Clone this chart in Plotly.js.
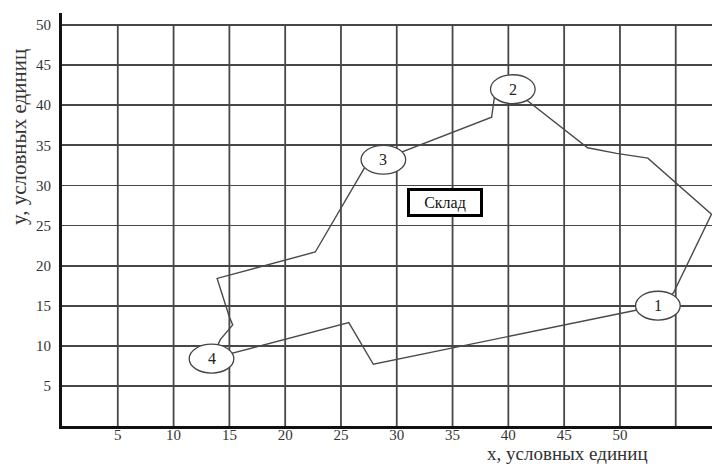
<!DOCTYPE html>
<html>
<head>
<meta charset="utf-8">
<script src="https://cdn.plot.ly/plotly-3.0.1.min.js"></script>
<style>
  html, body { margin: 0; padding: 0; background: #ffffff; }
  #chart { width: 712px; height: 466px; }
</style>
</head>
<body>
<div id="chart"></div>
<script>
// ---- data ----
const xTickVals = [5, 10, 15, 20, 25, 30, 35, 40, 45, 50];
const xTickText = ['5', '10', '15', '20', '25', '30', '35', '40', '45', '50'];
const xGridVals = [5, 10, 15, 20, 25, 30, 35, 40, 45, 50, 55];
const yTickVals = [5, 10, 15, 20, 25, 30, 35, 40, 45, 50];
const yTickText = ['5', '10', '15', '20', '25', '30', '35', '40', '45', '50'];

// delivery points (circled numbers)
const stopNames = ['1', '2', '3', '4'];
const stopX = [53.4, 40.4, 28.8, 13.4];
const stopY = [15.0, 42.0, 33.2, 8.4];

// route polyline (closed loop)
const routeX = [53.4, 54.8, 58.2, 52.5, 49.7, 47.1, 40.4, 38.8, 38.5, 28.8, 27.2, 22.7, 13.9, 15.0, 15.3, 14.2, 13.4, 25.7, 27.9, 53.4];
const routeY = [15.0, 16.6, 26.4, 33.4, 34.0, 34.7, 42.0, 41.5, 38.5, 33.2, 32.4, 21.7, 18.4, 13.6, 12.6, 10.8, 8.4, 12.9, 7.7, 15.0];

// warehouse label
const depotName = 'Склад';
const depotX = 34.3;
const depotY = 27.9;

const xTitle = 'x, условных единиц';
const yTitle = 'y, условных единиц';

// ---- styles ----
const serif = 'Liberation Serif, Times New Roman, serif';
const gridColor = '#474747';
const lineColor = '#4a4a4a';
const rx = 2.0, ry = 1.8;

const traces = [{
  type: 'scatter',
  mode: 'lines',
  x: routeX,
  y: routeY,
  line: { color: lineColor, width: 1.4 },
  hoverinfo: 'skip',
  showlegend: false,
  cliponaxis: true
}];

const shapes = [];
xGridVals.forEach(v => {
  shapes.push({
    type: 'line', xref: 'x', yref: 'y',
    x0: v, x1: v, y0: 0, y1: 50,
    line: { color: gridColor, width: 1.8 },
    layer: 'below'
  });
});
stopX.forEach((cx, i) => {
  shapes.push({
    type: 'circle', xref: 'x', yref: 'y',
    x0: cx - rx, x1: cx + rx, y0: stopY[i] - ry, y1: stopY[i] + ry,
    fillcolor: '#ffffff',
    line: { color: '#444444', width: 1.3 },
    layer: 'above'
  });
});

const annotations = stopNames.map((n, i) => ({
  x: stopX[i], y: stopY[i], xref: 'x', yref: 'y',
  text: n, showarrow: false,
  font: { family: serif, size: 16, color: '#222222' }
}));
annotations.push({
  x: depotX, y: depotY, xref: 'x', yref: 'y',
  text: depotName, showarrow: false,
  font: { family: serif, size: 16, color: '#111111' },
  bgcolor: '#ffffff', bordercolor: '#000000', borderwidth: 3, borderpad: 0,
  width: 70, height: 23
});
annotations.push({
  x: 0.778, y: -0.0969, xref: 'paper', yref: 'paper',
  xanchor: 'center', yanchor: 'bottom',
  text: xTitle, showarrow: false,
  font: { family: serif, size: 19, color: '#333333' }
});
annotations.push({
  x: -0.066, y: 0.70, xref: 'paper', yref: 'paper',
  xanchor: 'center', yanchor: 'middle', textangle: -90,
  text: yTitle, showarrow: false,
  font: { family: serif, size: 21, color: '#333333' }
});

const layout = {
  width: 712, height: 466,
  margin: { l: 62, r: 0, t: 13, b: 40, pad: 0 },
  paper_bgcolor: '#ffffff',
  plot_bgcolor: '#ffffff',
  showlegend: false,
  xaxis: {
    range: [0, 58.25],
    tickvals: xTickVals, ticktext: xTickText,
    showgrid: false, zeroline: false,
    showline: true, linecolor: '#111111', linewidth: 3,
    ticks: '', ticklen: 0, ticklabelstandoff: -7,
    tickfont: { family: serif, size: 15, color: '#333333' },
    fixedrange: true
  },
  yaxis: {
    range: [0, 51.5],
    tickvals: yTickVals, ticktext: yTickText,
    showgrid: true, gridcolor: gridColor, gridwidth: 1.8,
    zeroline: false,
    showline: true, linecolor: '#111111', linewidth: 3,
    ticks: 'outside', ticklen: 5, tickcolor: 'rgba(0,0,0,0)',
    tickfont: { family: serif, size: 15, color: '#333333' },
    fixedrange: true
  },
  shapes: shapes,
  annotations: annotations
};

Plotly.newPlot('chart', traces, layout, { displayModeBar: false, staticPlot: true });
</script>
</body>
</html>
